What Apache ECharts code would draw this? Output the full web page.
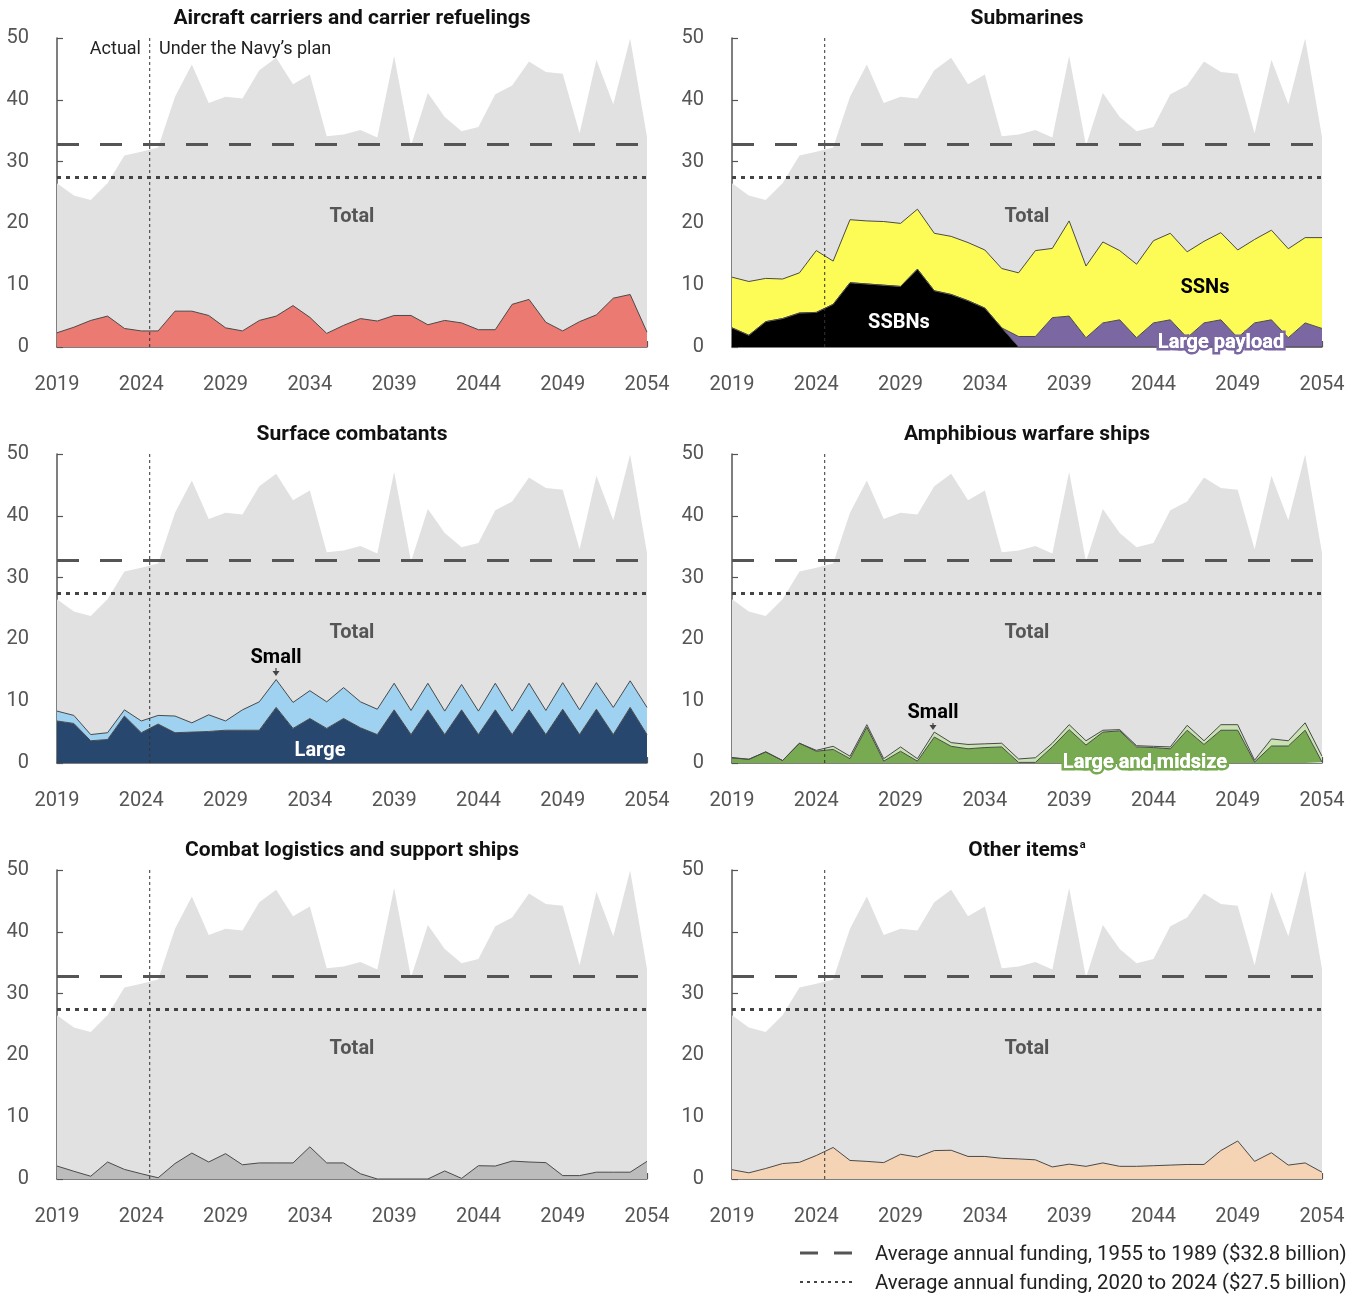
<!DOCTYPE html>
<html>
<head>
<meta charset="utf-8">
<script src="https://cdn.jsdelivr.net/npm/echarts@6/dist/echarts.min.js"></script>
<style>
html,body{margin:0;padding:0;background:#fff;}
#chart{width:1362px;height:1297px;}
</style>
</head>
<body>
<div id="chart"></div>
<script>
// ---------- DATA ----------
const years = ['2019','2020','2021','2022','2023','2024','2025','2026','2027','2028','2029','2030','2031','2032','2033','2034','2035','2036','2037','2038','2039','2040','2041','2042','2043','2044','2045','2046','2047','2048','2049','2050','2051','2052','2053','2054'];

const total = [26.5,24.5,23.8,26.5,31.0,31.6,32.3,40.5,45.7,39.5,40.5,40.2,44.8,46.8,42.5,44.1,34.1,34.4,35.1,33.9,47.1,32.6,41.1,37.2,34.9,35.6,40.9,42.3,46.2,44.5,44.2,34.6,46.5,39.3,49.9,34.0];

const carriers = [2.3,3.2,4.3,5.0,3.0,2.6,2.6,5.8,5.8,5.1,3.1,2.6,4.3,5.0,6.7,4.8,2.2,3.5,4.6,4.2,5.1,5.1,3.6,4.3,3.9,2.8,2.8,6.9,7.7,4.0,2.6,4.1,5.2,7.9,8.5,2.4];

const ssbns = [3.1,1.9,4.1,4.6,5.5,5.6,6.9,10.4,10.2,10.0,9.8,12.6,9.1,8.5,7.5,6.3,3.1,0,0,0,0,0,0,0,0,0,0,0,0,0,0,0,0,0,0,0];
const largePayload = [0,0,0,0,0,0,0,0,0,0,0,0,0,0,0,0,0,1.7,1.7,4.75,5.0,1.5,3.9,4.4,1.5,3.9,4.4,1.5,3.9,4.4,1.5,3.9,4.4,1.5,3.9,3.0];
const ssns = [8.2,8.7,7.0,6.4,6.5,10.0,7.0,10.2,10.2,10.3,10.2,9.7,9.3,9.4,9.4,9.4,9.6,10.3,13.9,11.2,15.4,11.6,13.1,11.2,11.9,13.3,14.0,13.9,13.2,14.1,14.2,13.5,14.5,14.4,13.8,14.7];

const surfLarge = [6.8,6.4,3.6,3.8,7.6,4.9,6.3,4.9,5.0,5.1,5.3,5.3,5.3,9.0,5.6,7.2,5.6,7.2,5.7,4.6,8.6,4.6,8.6,4.6,8.6,4.6,8.6,4.6,8.6,4.6,8.7,4.6,8.7,4.6,9.0,4.6];
const surfSmall = [1.6,1.3,1.0,1.1,1.0,1.9,1.4,2.7,1.5,2.7,1.5,3.3,4.6,4.5,4.2,4.5,4.3,5.0,4.2,4.1,4.3,3.9,4.3,3.8,4.1,3.8,4.3,3.8,4.3,3.9,4.3,4.0,4.3,4.4,4.3,4.4];

const amphLarge = [0.8,0.6,1.8,0.4,3.2,1.9,2.2,0.7,5.8,0.3,1.9,0.3,4.2,2.7,2.3,2.5,2.6,0.1,0.1,2.6,5.4,2.9,5.0,5.2,2.6,2.5,2.3,5.3,3.0,5.3,5.3,0.15,2.75,2.75,5.3,0.15];
const amphSmall = [0.1,0,0,0,0,0.15,0.5,0.4,0.4,0.4,0.7,0.4,0.8,0.6,0.7,0.6,0.6,0.55,0.75,0.6,0.8,0.7,0.3,0.2,0.2,0.2,0.3,0.8,0.6,0.9,0.9,0.3,1.15,0.85,1.2,0.95];

const logistics = [2.1,1.25,0.45,2.75,1.55,0.85,0.2,2.5,4.2,2.75,4.1,2.3,2.6,2.6,2.6,5.2,2.6,2.6,0.85,0,0,0,0,1.3,0.1,2.15,2.1,2.9,2.75,2.65,0.55,0.55,1.1,1.1,1.1,2.85];

const otherItems = [1.5,1.0,1.7,2.5,2.7,3.8,5.1,3.0,2.85,2.65,4.0,3.55,4.6,4.65,3.65,3.65,3.35,3.25,3.1,1.95,2.4,2.05,2.6,2.05,2.05,2.15,2.25,2.35,2.35,4.6,6.15,2.85,4.25,2.25,2.6,1.1];

const avgHistoric = 32.8;   // 1955-1989
const avgRecent = 27.5;     // 2020-2024
const planStart = 2024.5;   // boundary between actual and plan
const yearMin = 2019, yearMax = 2054;

const panelTitles = ['Aircraft carriers and carrier refuelings','Submarines','Surface combatants','Amphibious warfare ships','Combat logistics and support ships','Other items{sup|a}'];

// ---------- LAYOUT ----------
const FONT = 'Roboto, "Noto Sans", sans-serif';
const colLeft = [57, 732];
const plotW = 590;
const rowTop = [38, 454, 870];
const plotH = 309;

const panels = [
  {title: panelTitles[0], comps: [{data: carriers, color:'#eb7a72'}]},
  {title: panelTitles[1], comps: [
    {data: ssbns, color:'#000000'},
    {data: largePayload, color:'#7b67a1'},
    {data: ssns, color:'#fdfc56'}]},
  {title: panelTitles[2], comps: [
    {data: surfLarge, color:'#27476f'},
    {data: surfSmall, color:'#9fd1f0'}]},
  {title: panelTitles[3], comps: [
    {data: amphLarge, color:'#78aa52'},
    {data: amphSmall, color:'#c9e2b2'}]},
  {title: panelTitles[4], comps: [{data: logistics, color:'#bcbcbc'}]},
  {title: panelTitles[5], comps: [{data: otherItems, color:'#f5d4b6'}]}
];

const grid = [], xAxis = [], yAxis = [], series = [], title = [];
panels.forEach((p, k) => {
  const col = k % 2, row = Math.floor(k / 2);
  const left = colLeft[col], top = rowTop[row];
  grid.push({left: left, top: top, width: plotW, height: plotH, containLabel: false});
  title.push({
    text: p.title, left: left + plotW / 2 - 5, top: top - 35, textAlign: 'center',
    textStyle: {fontFamily: FONT, fontSize: 21, fontWeight: 'bold', color: '#111',
      rich: {sup: {fontFamily: FONT, fontSize: 11, fontWeight: 'bold', color: '#111', verticalAlign: 'top', padding: [0,0,11,1]}}}
  });
  // category axis for the yearly data
  xAxis.push({
    gridIndex: k, type: 'category', data: years, boundaryGap: false,
    axisLine: {show: true, onZero: false, lineStyle: {color: '#555', width: 1.5}},
    axisTick: {show: true, inside: true, length: 6, interval: 4, lineStyle: {color: '#555', width: 1.2}},
    axisLabel: {interval: 4, fontFamily: FONT, fontSize: 20, color: '#555', margin: 28},
    splitLine: {show: false}
  });
  // hidden numeric year axis (for the actual / plan boundary)
  xAxis.push({
    gridIndex: k, type: 'value', min: yearMin, max: yearMax, show: false
  });
  yAxis.push({
    gridIndex: k, type: 'value', min: 0, max: 50, interval: 10,
    axisLine: {show: true, lineStyle: {color: '#555', width: 1.5}},
    axisTick: {show: true, inside: true, length: 6, lineStyle: {color: '#555', width: 1.2}},
    axisLabel: {fontFamily: FONT, fontSize: 20, color: '#555', margin: 28, padding: [4, 0, 0, 0]},
    splitLine: {show: false}
  });
  series.push({
    type: 'line', xAxisIndex: 2 * k, yAxisIndex: k, data: total, symbol: 'none',
    lineStyle: {width: 0}, areaStyle: {color: '#e1e1e1', opacity: 1}, z: 1, silent: true,
    markLine: {
      silent: true, symbol: 'none', label: {show: false}, animation: false, z: 5,
      data: [
        {yAxis: avgHistoric, lineStyle: {color: '#555', width: 3, type: [22, 21]}},
        {yAxis: avgRecent, lineStyle: {color: '#444', width: 3, type: [4, 5]}}
      ]
    }
  });
  p.comps.forEach((c) => {
    series.push({
      type: 'line', xAxisIndex: 2 * k, yAxisIndex: k, stack: 'panel' + k, data: c.data, symbol: 'none',
      lineStyle: {color: '#4a4a4a', width: 1}, areaStyle: {color: c.color, opacity: 1}, z: 2, silent: true
    });
  });
  // actual / plan boundary
  series.push({
    type: 'line', xAxisIndex: 2 * k + 1, yAxisIndex: k, data: [[planStart, 0], [planStart, 50]],
    symbol: 'none', lineStyle: {color: '#333', width: 1, type: [3, 3]}, z: 4, silent: true
  });
});

const txt = (x, y, text, opts) => ({
  type: 'text', x: x, y: y, z: 100,
  style: Object.assign({text: text, font: 'bold 20px ' + FONT, fill: '#555', align: 'center', verticalAlign: 'middle'}, opts || {})
});

const graphic = [];
[[352,214],[1027,214],[352,630],[1027,630],[352,1046],[1027,1046]].forEach(([x,y]) => graphic.push(txt(x, y + 3, 'Total')));
graphic.push(txt(141, 49, 'Actual', {font: '18px ' + FONT, fill: '#222', align: 'right'}));
graphic.push(txt(159, 49, 'Under the Navy\u2019s plan', {font: '18px ' + FONT, fill: '#222', align: 'left'}));
// Submarines
graphic.push(txt(899, 323, 'SSBNs', {fill: '#fff'}));
graphic.push(txt(1205, 288, 'SSNs', {fill: '#000'}));
graphic.push(txt(1221, 343, 'Large payload', {fill: '#fff', stroke: '#7b67a1', lineWidth: 5}));
graphic.push(txt(1221, 343, 'Large payload', {fill: '#fff'}));
// Surface
graphic.push(txt(276, 658, 'Small', {fill: '#000'}));
graphic.push({type: 'line', z: 100, shape: {x1: 276, y1: 668, x2: 276, y2: 672}, style: {stroke: '#444', lineWidth: 1.2}});
graphic.push({type: 'polygon', z: 100, shape: {points: [[272.5, 671], [279.5, 671], [276, 676]]}, style: {fill: '#444'}});
graphic.push(txt(320, 751, 'Large', {fill: '#fff'}));
// Amphibious
graphic.push(txt(933, 713, 'Small', {fill: '#000'}));
graphic.push({type: 'line', z: 100, shape: {x1: 933, y1: 723, x2: 933, y2: 726}, style: {stroke: '#444', lineWidth: 1.2}});
graphic.push({type: 'polygon', z: 100, shape: {points: [[929.5, 725], [936.5, 725], [933, 730]]}, style: {fill: '#444'}});
graphic.push(txt(1145, 763, 'Large and midsize', {fill: '#fff', stroke: '#78aa52', lineWidth: 5}));
graphic.push(txt(1145, 763, 'Large and midsize', {fill: '#fff'}));
// Legend
graphic.push({type: 'line', z: 100, shape: {x1: 800, y1: 1253, x2: 852, y2: 1253}, style: {stroke: '#555', lineWidth: 3, lineDash: [18, 16]}});
graphic.push({type: 'line', z: 100, shape: {x1: 800, y1: 1282, x2: 852, y2: 1282}, style: {stroke: '#444', lineWidth: 2, lineDash: [3, 4]}});
graphic.push(txt(875, 1255, 'Average annual funding, 1955 to 1989 ($32.8 billion)', {font: '20.4px ' + FONT, fill: '#222', align: 'left'}));
graphic.push(txt(875, 1284, 'Average annual funding, 2020 to 2024 ($27.5 billion)', {font: '20.4px ' + FONT, fill: '#222', align: 'left'}));

const chart = echarts.init(document.getElementById('chart'), null, {renderer: 'canvas'});
chart.setOption({
  animation: false,
  backgroundColor: '#fff',
  title: title,
  grid: grid,
  xAxis: xAxis,
  yAxis: yAxis,
  series: series,
  graphic: graphic
});
</script>
</body>
</html>
